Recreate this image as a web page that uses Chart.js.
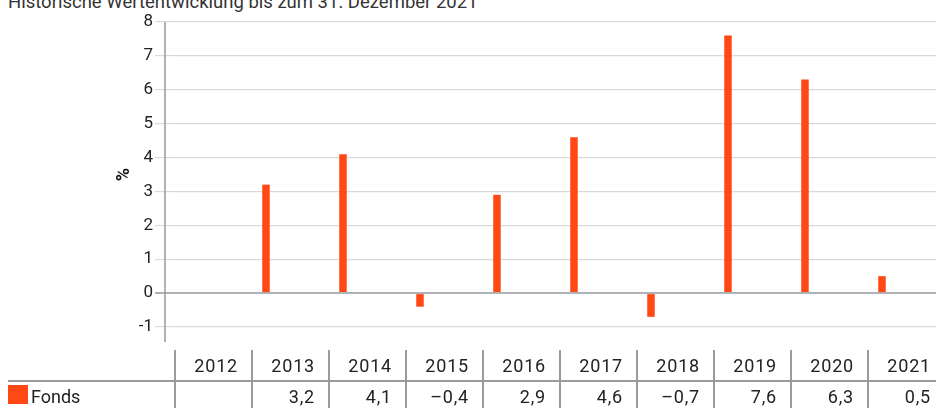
<!DOCTYPE html>
<html><head><meta charset="utf-8">
<script src="https://cdn.jsdelivr.net/npm/chart.js@4/dist/chart.umd.min.js"></script>
<style>
html,body{margin:0;padding:0;width:936px;height:408px;overflow:hidden;background:#fff;font-family:Roboto,"Liberation Sans",sans-serif;color:#222}
#title{position:absolute;left:8px;top:-9px;font-size:18.5px;line-height:22px;color:#333;white-space:nowrap}
#wrap{position:absolute;left:0;top:0;width:960px;height:408px}
#tbl{position:absolute;left:0;top:0;width:960px;height:408px;pointer-events:none}
.vl{position:absolute;width:2px;background:#9a9a9a;top:350px;height:60px}
.hl{position:absolute;height:2px;background:#9a9a9a;top:380px;left:8px;width:950px}
.cell{position:absolute;font-size:18px;line-height:20px;text-align:right;white-space:nowrap;color:#222;letter-spacing:0.8px}
.sq{position:absolute;left:8px;top:385px;width:20px;height:19px}
</style>
</head><body>
<div id="title">Historische Wertentwicklung bis zum 31. Dezember 2021</div>
<div id="wrap"><canvas id="c" width="960" height="408"></canvas></div>
<div id="tbl"></div>
<script>
const categories = ['2012','2013','2014','2015','2016','2017','2018','2019','2020','2021'];
const fondsValues = [null, 3.2, 4.1, -0.4, 2.9, 4.6, -0.7, 7.6, 6.3, 0.5];
const emptySeries = [null, null, null, null, null, null, null, null, null, null];
const yTicks = [-1, 0, 1, 2, 3, 4, 5, 6, 7, 8];
const seriesName = 'Fonds';
const barColor = '#ff4814';

const axisLine = {
  id: 'axisLine',
  afterDraw(chart) {
    const {ctx, chartArea} = chart;
    ctx.save();
    ctx.strokeStyle = '#999';
    ctx.lineWidth = 1.5;
    ctx.beginPath();
    ctx.moveTo(chartArea.left - 10, chartArea.top);
    ctx.lineTo(chartArea.left - 10, chartArea.bottom + 15);
    ctx.stroke();
    ctx.restore();
  }
};

const chart = new Chart(document.getElementById('c'), {
  type: 'bar',
  data: {
    labels: categories,
    datasets: [
      {label: seriesName, data: fondsValues, backgroundColor: barColor, categoryPercentage: 0.955, barPercentage: 0.306},
      {label: '', data: emptySeries, backgroundColor: barColor, categoryPercentage: 0.955, barPercentage: 0.306},
      {label: '', data: emptySeries, backgroundColor: barColor, categoryPercentage: 0.955, barPercentage: 0.306}
    ]
  },
  options: {
    responsive: false,
    animation: false,
    layout: {padding: {left: 110, right: 15, top: 22, bottom: 81}},
    plugins: {legend: {display: false}, tooltip: {enabled: false}, title: {display: false}},
    scales: {
      x: {display: false, offset: true},
      y: {
        min: -1, max: 8,
        afterBuildTicks(scale) { scale.ticks = yTicks.map(v => ({value: v})); },
        afterFit(scale) { scale.width = 175 - 110; },
        border: {display: false},
        grid: {
          tickLength: 20,
          color: c => c.tick && c.tick.value === 0 ? '#aeb3b8' : '#d9d9d9',
          lineWidth: c => c.tick && c.tick.value === 0 ? 2 : 1.2
        },
        ticks: {padding: 2, color: '#222', font: {family: 'Roboto, "Liberation Sans", sans-serif', size: 17}},
        title: {display: true, text: '%', color: '#111', padding: {top: 4, bottom: 0}, font: {family: 'Roboto, "Liberation Sans", sans-serif', size: 18, weight: 'bold'}}
      }
    }
  },
  plugins: [axisLine]
});

// Build the data table under the chart, aligned to the category scale
const tbl = document.getElementById('tbl');
const xs = chart.scales.x;
const w = (xs.right - xs.left) / categories.length;
let html = '<div class="hl"></div>';
html += '<div class="sq" style="background:' + barColor + '"></div>';
html += '<div class="cell" style="left:31px;top:387px;text-align:left;letter-spacing:0">' + seriesName + '</div>';
categories.forEach((cat, i) => {
  const cx = xs.getPixelForValue(i);
  const l = cx - w / 2;
  html += '<div class="vl" style="left:' + (l - 1) + 'px"></div>';
  html += '<div class="cell" style="left:' + l + 'px;width:' + (w - 14) + 'px;top:356px">' + cat + '</div>';
  const v = fondsValues[i];
  const txt = v === null ? '' : v.toFixed(1).replace('.', ',').replace('-', '\u2013');
  html += '<div class="cell" style="left:' + l + 'px;width:' + (w - 14) + 'px;top:387px">' + txt + '</div>';
});
tbl.innerHTML = html;
</script>
</body></html>
